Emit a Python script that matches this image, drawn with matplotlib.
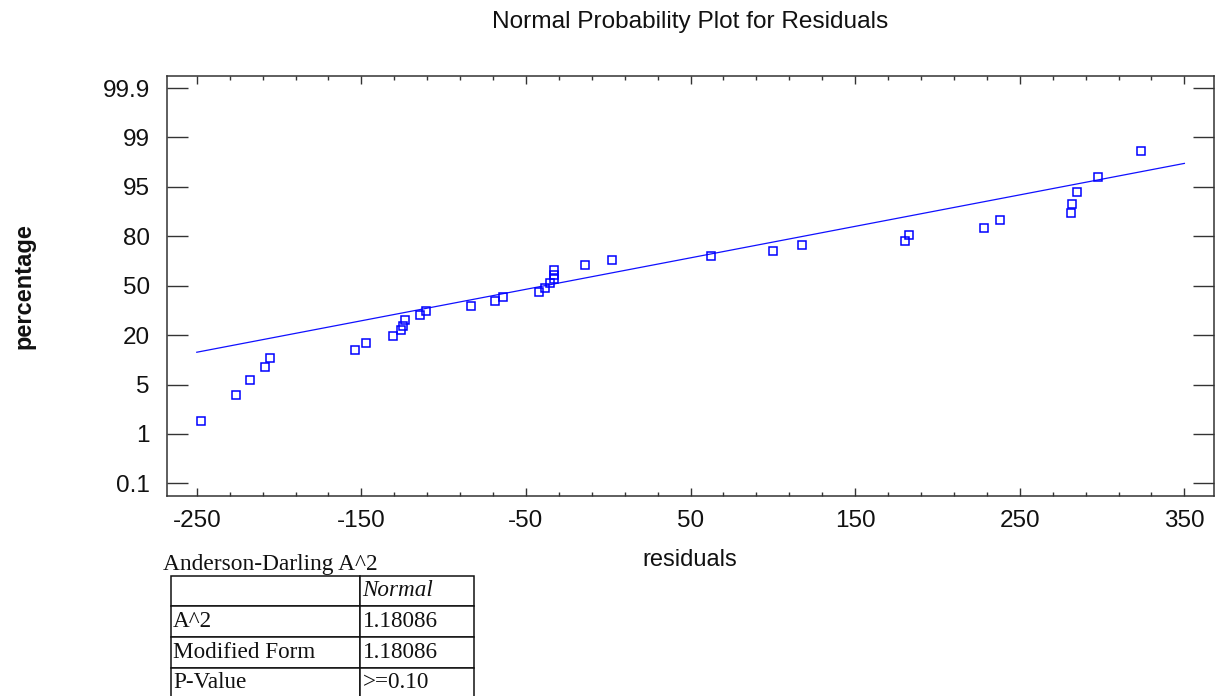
import numpy as np
import matplotlib
matplotlib.use("Agg")
import matplotlib.pyplot as plt
from matplotlib.ticker import FixedLocator, NullLocator

# ---------------- data ----------------
residuals = [-247.4, -226.1, -217.8, -208.5, -205.7, -153.8, -147.3, -130.8, -126.1,
             -124.5, -123.3, -114.2, -110.5, -83.6, -68.8, -64.1, -42.1, -38.3,
             -35.6, -32.8, -32.8, -32.8, -14.3, 2.4, 62.4, 100.2, 117.9, 180.1,
             182.7, 228.0, 238.1, 280.9, 281.9, 284.6, 297.5, 323.4]
percentages = [2.08, 4.19, 6.5, 10.36, 13.1, 15.4, 17.7, 19.6, 22.9, 25.6, 29.2, 32.0,
               34.9, 37.7, 40.5, 43.4, 46.0, 48.9, 51.7, 53.9, 56.7, 59.6, 62.6, 65.4,
               68.1, 71.1, 74.8, 77.4, 80.5, 82.4, 84.8, 87.0, 89.8, 93.5, 95.8, 97.9]
fit_x = [-250, 350]
fit_pct = [14.8, 96.9]

y_ticks = [0.1, 1, 5, 20, 50, 80, 95, 99, 99.9]
y_ticklabels = ["0.1", "1", "5", "20", "50", "80", "95", "99", "99.9"]
x_ticks = [-250, -150, -50, 50, 150, 250, 350]

table_title = "Anderson-Darling A^2"
table_header = ["", "Normal"]
table_rows = ["A^2", "Modified Form", "P-Value"]
table_values = ["1.18086", "1.18086", ">=0.10"]

# ---------------- figure ----------------
W, H = 1215, 696
fig = plt.figure(figsize=(W / 100, H / 100), dpi=100)
plt.rcParams["font.family"] = ["Liberation Sans", "DejaVu Sans"]

def fx(px):
    return px / W

def fy(py):
    return 1 - py / H

ax_l, ax_r, ax_t, ax_b = 167.3, 1214.0, 75.7, 495.7
ax = fig.add_axes([fx(ax_l), fy(ax_b), (ax_r - ax_l) / W, (ax_b - ax_t) / H])

# probability scale with evenly spaced tick positions
P = [0, 0.1, 1, 5, 20, 50, 80, 95, 99, 99.9, 100]
U = [-5, -4, -3, -2, -1, 0, 1, 2, 3, 4, 5]

def fwd(p):
    return np.interp(p, P, U)

def inv(u):
    return np.interp(u, U, P)

ax.set_yscale("function", functions=(fwd, inv))

blue = "#1010ff"
ax.plot(fit_x, fit_pct, color=blue, lw=0.9, zorder=2)
ax.plot(residuals, percentages, linestyle="none", marker="s", ms=5.8,
        mfc="none", mec="#0000ff", mew=1.1, zorder=3)

ax.set_xlim(-267.9, 368.0)
ax.set_ylim(inv(-4.25), inv(4.25))

ax.yaxis.set_major_locator(FixedLocator(y_ticks))
ax.set_yticklabels(y_ticklabels)
ax.yaxis.set_minor_locator(NullLocator())
ax.xaxis.set_major_locator(FixedLocator(x_ticks))
ax.set_xticklabels([str(v) for v in x_ticks])
ax.xaxis.set_minor_locator(FixedLocator(np.arange(-250, 351, 20)))

spine_c = "#333333"
for s in ax.spines.values():
    s.set_color(spine_c)
    s.set_linewidth(1.1)

ax.tick_params(axis="y", which="major", direction="in", length=15, width=1.0,
               color=spine_c, left=True, right=True, labelsize=17.5, pad=12.5,
               labelcolor="#111111")
ax.tick_params(axis="x", which="major", direction="in", length=5.8, width=1.0,
               color=spine_c, top=True, bottom=True, labelsize=17.5, pad=10.5,
               labelcolor="#111111")
ax.tick_params(axis="x", which="minor", direction="in", length=2.9, width=1.0,
               color=spine_c, top=True, bottom=True)

# titles / labels
fig.text(fx(690), fy(28.3), "Normal Probability Plot for Residuals", ha="center",
         va="baseline", fontsize=17.6, color="#111111")
fig.text(fx(690), fy(565.7), "residuals", ha="center", va="baseline",
         fontsize=17, color="#111111")
fig.text(fx(24), fy(286), "percentage", ha="center", va="center", rotation=90,
         fontsize=17, fontweight="bold", color="#111111")

# ---------------- Anderson-Darling table ----------------
tab_ax = fig.add_axes([0, 0, 1, 1])
tab_ax.set_xlim(0, W)
tab_ax.set_ylim(H, 0)
tab_ax.axis("off")

serif = ["Liberation Serif", "DejaVu Serif"]
tab_ax.text(163, 570, table_title, ha="left", va="baseline", fontsize=16.8,
            family=serif, color="#111111")

t_left, t_mid, t_right, t_top = 170.7, 360.0, 474.0, 575.7
row_h = 30.6
n_rows = 1 + len(table_rows)
t_bottom = t_top + n_rows * row_h
cell_text = [table_header] + [[r, v] for r, v in zip(table_rows, table_values)]
col_w = [(t_mid - t_left) / (t_right - t_left), (t_right - t_mid) / (t_right - t_left)]
tbl = tab_ax.table(cellText=cell_text, colWidths=col_w, cellLoc="left",
                   bbox=[fx(t_left), fy(t_bottom), (t_right - t_left) / W,
                         (t_bottom - t_top) / H])
tbl.auto_set_font_size(False)
tbl.set_fontsize(16.7)
for (r, c), cell in tbl.get_celld().items():
    cell.set_edgecolor("#111111")
    cell.set_linewidth(1.1)
    cell.PAD = 2.5 / ((t_mid - t_left) if c == 0 else (t_right - t_mid))
    cell.get_text().set_fontfamily(serif)
    cell.get_text().set_color("#111111")
    if r == 0 and c == 1:
        cell.get_text().set_fontstyle("italic")

fig.savefig("out.png", dpi=100)
